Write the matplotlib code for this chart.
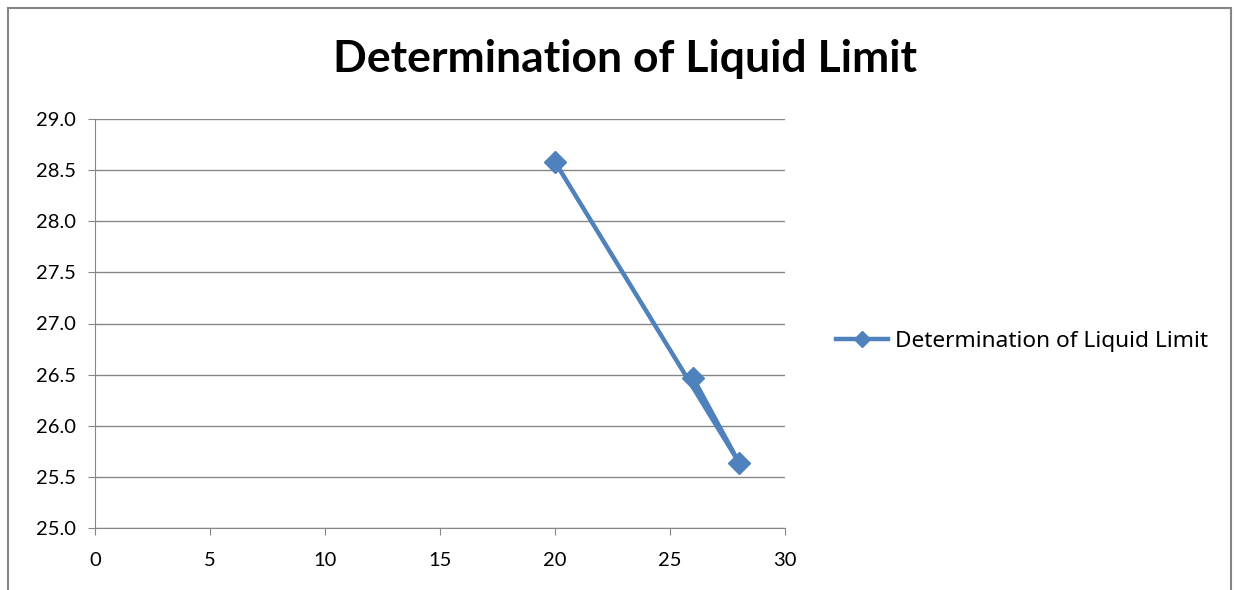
import matplotlib.pyplot as plt
from matplotlib.patches import Rectangle

# blows (x) vs water content (y), in plotting order
blows = [20, 28, 26]
water_content = [28.58, 25.64, 26.47]
series_name = "Determination of Liquid Limit"
x_ticks = [0, 5, 10, 15, 20, 25, 30]
y_ticks = [25.0, 25.5, 26.0, 26.5, 27.0, 27.5, 28.0, 28.5, 29.0]

plt.rcParams["font.family"] = ["Lato", "DejaVu Sans"]

W, H = 1235, 590
fig = plt.figure(figsize=(W / 100, H / 100), dpi=100)

# chart-area border (bottom edge cut off in the reference)
fig.patches.append(Rectangle((8 / W, -0.1), (1231 - 8) / W, 1.1 - 8 / H,
                             transform=fig.transFigure, fill=False,
                             edgecolor="#868686", linewidth=1.5))

ax = fig.add_axes([95 / W, 1 - 528 / H, (785 - 95) / W, (528 - 119) / H])
ax.plot(blows, water_content, color="#4F81BD", linewidth=3.2, marker="D",
        markersize=11.5, label=series_name, solid_joinstyle="round")

ax.set_xlim(0, 30)
ax.set_ylim(25.0, 29.0)
ax.set_xticks(x_ticks)
ax.set_yticks(y_ticks)
ax.set_yticklabels([f"{v:.1f}" for v in y_ticks])
ax.grid(axis="y", color="#868686", linewidth=1)
ax.set_axisbelow(True)
for side in ("top", "right"):
    ax.spines[side].set_visible(False)
for side in ("left", "bottom"):
    ax.spines[side].set_color("#868686")
ax.tick_params(axis="both", colors="#868686", labelcolor="black",
               labelsize=14.5, length=5, direction="out")
ax.tick_params(axis="x", pad=12)
ax.tick_params(axis="y", pad=9)

fig.text(625 / W, 1 - 59 / H, "Determination of Liquid Limit",
         ha="center", va="center", fontsize=32, fontweight="bold")

fig.legend(loc="center left", bbox_to_anchor=(836 / W, 1 - 341 / H),
           frameon=False, prop={"family": ["Noto Sans", "DejaVu Sans"], "size": 16.3},
           handlelength=2.3, handletextpad=0.3, markerscale=0.7,
           borderaxespad=0, borderpad=0)

fig.savefig("out.png", dpi=100)
